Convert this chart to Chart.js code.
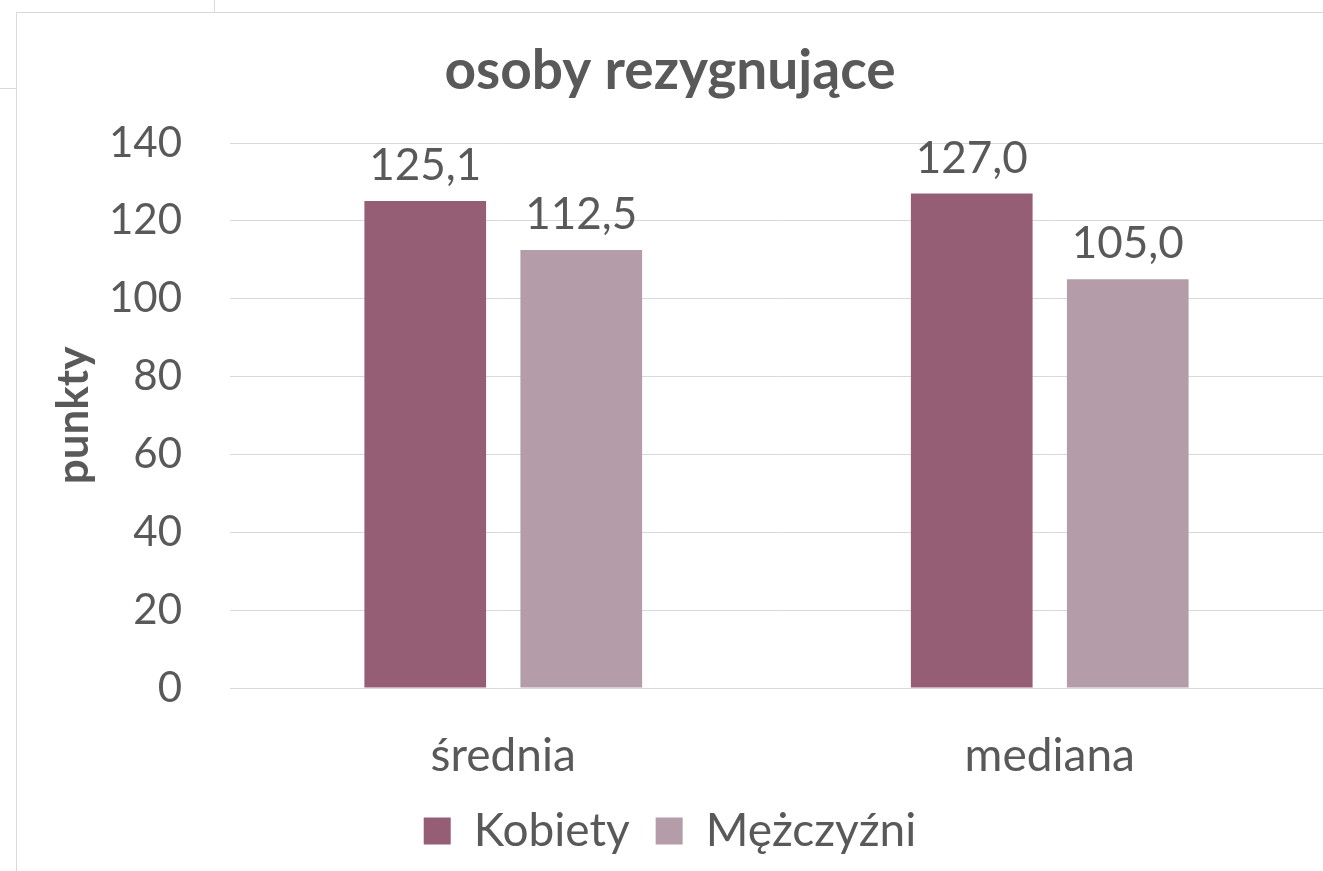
<!DOCTYPE html>
<html>
<head>
<meta charset="utf-8">
<script src="https://cdn.jsdelivr.net/npm/chart.js@4"></script>
<style>
  html, body { margin: 0; padding: 0; background: #fff; }
  body { width: 1323px; height: 871px; position: relative; overflow: hidden; }
  .ln { position: absolute; background: #d9d9d9; }
  #wrap { position: absolute; left: 17px; top: 13px; width: 1306px; height: 858px; }
</style>
</head>
<body>
<div class="ln" style="left:214px;top:0;width:1px;height:12px;"></div>
<div class="ln" style="left:0;top:88px;width:16px;height:1px;"></div>
<div class="ln" style="left:16px;top:12px;width:1307px;height:1px;"></div>
<div class="ln" style="left:16px;top:12px;width:1px;height:859px;"></div>
<div id="wrap"><canvas id="c" width="1306" height="858"></canvas></div>
<script>
const categories = ['średnia', 'mediana'];
const seriesNames = ['Kobiety', 'Mężczyźni'];
const kobiety = [125.1, 127.0];
const mezczyzni = [112.5, 105.0];
const yTicks = [0, 20, 40, 60, 80, 100, 120, 140];

const textColor = '#595959';
const fontFam = 'Lato, "Open Sans", sans-serif';

const valueLabels = {
  id: 'valueLabels',
  afterDatasetsDraw(chart) {
    const ctx = chart.ctx;
    ctx.save();
    ctx.font = '44px ' + fontFam;
    ctx.fillStyle = textColor;
    ctx.textAlign = 'center';
    ctx.textBaseline = 'alphabetic';
    chart.data.datasets.forEach((ds, i) => {
      chart.getDatasetMeta(i).data.forEach((bar, j) => {
        const txt = ds.data[j].toFixed(1).replace('.', ',');
        ctx.fillText(txt, bar.x, bar.y - 21);
      });
    });
    ctx.restore();
  }
};

new Chart(document.getElementById('c'), {
  type: 'bar',
  data: {
    labels: categories,
    datasets: [
      { label: seriesNames[0], data: kobiety, backgroundColor: '#955E75' },
      { label: seriesNames[1], data: mezczyzni, backgroundColor: '#B49DA9' }
    ]
  },
  options: {
    responsive: false,
    animation: false,
    layout: { padding: { left: 0, right: 0, top: 0, bottom: 7 } },
    datasets: { bar: { categoryPercentage: 0.571, barPercentage: 0.78 } },
    plugins: {
      tooltip: { enabled: false },
      title: {
        display: true,
        text: 'osoby rezygnujące',
        color: textColor,
        font: { family: fontFam, size: 55, weight: 'bold', lineHeight: 1.2 },
        padding: { top: 25, bottom: 39 }
      },
      legend: {
        position: 'bottom',
        labels: {
          color: textColor,
          font: { family: fontFam, size: 46 },
          boxWidth: 27,
          boxHeight: 27,
          padding: 26
        }
      }
    },
    scales: {
      x: {
        grid: { display: false, drawTicks: false },
        border: { display: true, color: '#d9d9d9', width: 1 },
        ticks: { color: textColor, font: { family: fontFam, size: 46 }, padding: 41 },
        afterFit(s) { s.height = 94; }
      },
      y: {
        min: 0, max: 140,
        afterBuildTicks(s) { s.ticks = yTicks.map(v => ({ value: v })); },
        grid: { color: '#d9d9d9', drawTicks: false },
        border: { display: false },
        ticks: { color: textColor, font: { family: fontFam, size: 42 }, padding: 48 },
        title: {
          display: true, text: 'punkty', color: textColor,
          font: { family: fontFam, size: 44, weight: 'bold', lineHeight: 1.2 },
          padding: { top: 30, bottom: 0 }
        },
        afterFit(s) { s.width = 213; }
      }
    }
  },
  plugins: [valueLabels]
});
</script>
</body>
</html>
